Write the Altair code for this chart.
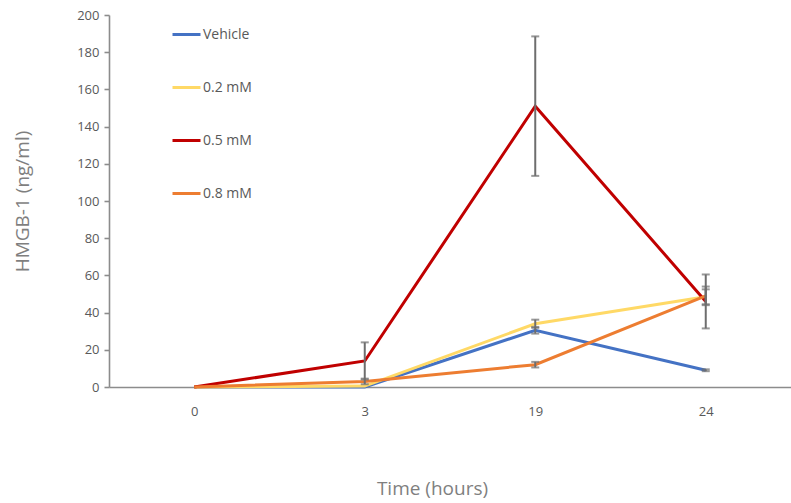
import altair as alt
import pandas as pd

# Sampling times (hours) and treatment groups
times = ["0", "3", "19", "24"]
groups = ["Vehicle", "0.2 mM", "0.5 mM", "0.8 mM"]
colors = ["#4472C4", "#FFD966", "#C00000", "#ED7D31"]

# Mean HMGB-1 concentration (ng/ml) per group at each time
vehicle = [0.0, 0.0, 30.5, 9.0]
mm02 = [0.0, 0.5, 34.0, 48.5]
mm05 = [0.0, 14.0, 151.0, 46.0]
mm08 = [0.0, 3.0, 12.0, 49.0]

# Error (± ng/ml) per group at each time
vehicle_err = [0.0, 0.0, 1.8, 0.5]
mm02_err = [0.0, 0.0, 2.2, 4.0]
mm05_err = [0.0, 10.0, 37.5, 14.5]
mm08_err = [0.0, 1.5, 1.5, 5.0]

means = [vehicle, mm02, mm05, mm08]
errs = [vehicle_err, mm02_err, mm05_err, mm08_err]

rows = []
for g, m_list, e_list in zip(groups, means, errs):
    for t, m, e in zip(times, m_list, e_list):
        rows.append({"time": t, "group": g, "mean": m, "lo": m - e, "hi": m + e, "err": e})
df = pd.DataFrame(rows)
err_df = df[df["err"] > 0]

FONT = "Open Sans"
LABEL = "#595959"
TITLE = "#7F7F7F"
AXIS = "#8C8C8C"

x_axis = alt.Axis(
    title="Time (hours)",
    orient="bottom",
    labelAngle=0,
    ticks=False,
    grid=False,
    labelPadding=18,
    labelFontSize=13,
    labelColor=LABEL,
    titleFontSize=19,
    titleFontWeight="normal",
    titleColor=TITLE,
    titleX=323,
    titleY=101,
    titleBaseline="middle",
    domainColor=AXIS,
    domainWidth=1.6,
)
y_axis = alt.Axis(
    title="HMGB-1 (ng/ml)",
    orient="left",
    values=list(range(0, 201, 20)),
    labelOverlap=False,
    grid=False,
    tickSize=5,
    tickColor=AXIS,
    tickWidth=1.6,
    labelPadding=5,
    labelFontSize=13,
    labelColor=LABEL,
    titleFontSize=19,
    titleFontWeight="normal",
    titleColor=TITLE,
    titleX=-87,
    titleY=186,
    titleAngle=-90,
    titleAlign="center",
    titleBaseline="middle",
    domainColor=AXIS,
    domainWidth=1.6,
)

x_scale = alt.Scale(type="point", padding=0.5)
y_scale = alt.Scale(domain=[0, 200], nice=False)

lines = alt.Chart(df).mark_line(strokeWidth=3).encode(
    x=alt.X("time:O", sort=times, scale=x_scale, axis=x_axis),
    y=alt.Y("mean:Q", scale=y_scale, axis=y_axis),
    color=alt.Color(
        "group:N",
        sort=groups,
        scale=alt.Scale(domain=groups, range=colors),
        legend=alt.Legend(
            title=None,
            orient="none",
            legendX=62,
            legendY=4,
            symbolType="stroke",
            symbolSize=784,
            symbolStrokeWidth=3,
            labelFontSize=14,
            labelColor=LABEL,
            labelOffset=1,
            rowPadding=30,
        ),
    ),
    order=alt.Order("time_idx:Q"),
).transform_calculate(time_idx="indexof(['0','3','19','24'], datum.time)")

# Error bars with end caps, drawn from the precomputed low/high values
bars = alt.Chart(err_df).mark_errorbar(
    ticks=True, size=8, thickness=2, color="#6E6E6E"
).encode(
    x=alt.X("time:O", sort=times, scale=x_scale, axis=x_axis),
    y=alt.Y("lo:Q", scale=y_scale, axis=y_axis, title="HMGB-1 (ng/ml)"),
    y2="hi:Q",
)

chart = (
    alt.layer(lines, bars)
    .properties(
        width=682,
        height=372,
        padding={"left": 109, "top": 15, "right": 0, "bottom": 116},
        autosize=alt.AutoSizeParams(type="none"),
        background="white",
    )
    .configure(font=FONT)
    .configure_view(stroke=None)
    .configure_axis(grid=False)
)

chart.save("out.html", embed_options={"renderer": "svg", "actions": False})
